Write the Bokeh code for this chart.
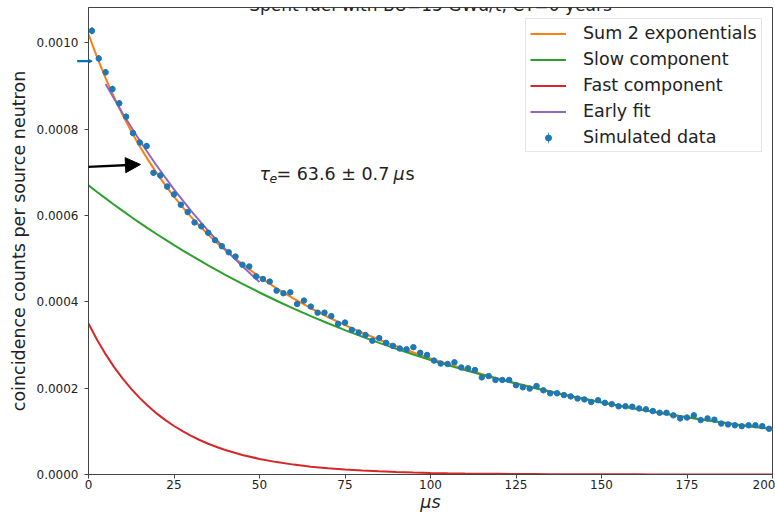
import math
from bokeh.plotting import figure
from bokeh.models import (Range1d, Legend, LegendItem, Label, Arrow, NormalHead,
                          FixedTicker, PrintfTickFormatter, ColumnDataSource)
from bokeh.core.properties import value
from bokeh.embed import file_html
from bokeh.resources import INLINE

# ---------------- data ----------------
t_data = list(range(1, 200, 2))  # microseconds, bin centres
y_data = [
    0.001028, 0.000964, 0.000932, 0.000893, 0.000860, 0.000829, 0.000791, 0.000769, 0.000761, 0.000699,
    0.000693, 0.000667, 0.000649, 0.000625, 0.000608, 0.000584, 0.000575, 0.000560, 0.000543, 0.000529,
    0.000515, 0.000505, 0.000486, 0.000482, 0.000459, 0.000453, 0.000447, 0.000426, 0.000420, 0.000422,
    0.000395, 0.000403, 0.000389, 0.000375, 0.000375, 0.000367, 0.000349, 0.000352, 0.000335, 0.000329,
    0.000323, 0.000310, 0.000316, 0.000305, 0.000298, 0.000292, 0.000290, 0.000295, 0.000282, 0.000277,
    0.000264, 0.000257, 0.000256, 0.000260, 0.000248, 0.000246, 0.000242, 0.000225, 0.000228, 0.000219,
    0.000219, 0.000219, 0.000207, 0.000202, 0.000199, 0.000205, 0.000195, 0.000188, 0.000188, 0.000184,
    0.000181, 0.000176, 0.000174, 0.000168, 0.000172, 0.000166, 0.000163, 0.000158, 0.000158, 0.000157,
    0.000153, 0.000151, 0.000147, 0.000143, 0.000143, 0.000137, 0.000130, 0.000132, 0.000137, 0.000126,
    0.000130, 0.000127, 0.000118, 0.000116, 0.000114, 0.000112, 0.000114, 0.000114, 0.000112, 0.000106,
]
y_err = [v * 1e-6 for v in [
    8.0, 7.8, 7.6, 7.5, 7.3, 7.2, 7.0, 6.9, 6.8, 6.7, 6.6, 6.5, 6.4, 6.3, 6.2, 6.1, 6.0, 5.9, 5.8, 5.8,
    5.7, 5.6, 5.5, 5.5, 5.4, 5.3, 5.3, 5.2, 5.1, 5.1, 5.0, 5.0, 4.9, 4.9, 4.8, 4.8, 4.7, 4.7, 4.6, 4.6,
    4.5, 4.5, 4.5, 4.4, 4.4, 4.3, 4.3, 4.3, 4.2, 4.2, 4.1, 4.1, 4.1, 4.0, 4.0, 4.0, 3.9, 3.9, 3.9, 3.8,
    3.8, 3.8, 3.7, 3.7, 3.7, 3.7, 3.6, 3.6, 3.6, 3.5, 3.5, 3.5, 3.5, 3.4, 3.4, 3.4, 3.4, 3.3, 3.3, 3.3,
    3.3, 3.2, 3.2, 3.2, 3.2, 3.1, 3.1, 3.1, 3.1, 3.0, 3.0, 3.0, 3.0, 3.0, 2.9, 2.9, 2.9, 2.9, 2.9, 2.8,
]]

t_curve = [0, 2.5, 5, 7.5, 10, 12.5, 15, 17.5, 20, 22.5, 25, 27.5, 30, 32.5, 35, 37.5, 40,
           45, 50, 55, 60, 65, 70, 75, 80, 85, 90, 95, 100, 105, 110, 115, 120, 125, 130,
           135, 140, 145, 150, 155, 160, 165, 170, 175, 180, 185, 190, 195, 200]
sum_curve = [
    0.0010200, 0.0009671, 0.0009185, 0.0008740, 0.0008329, 0.0007950, 0.0007601, 0.0007278, 0.0006977,
    0.0006699, 0.0006439, 0.0006196, 0.0005970, 0.0005758, 0.0005558, 0.0005371, 0.0005194,
    0.0004870, 0.0004578, 0.0004313, 0.0004073, 0.0003852, 0.0003649, 0.0003461, 0.0003286, 0.0003123,
    0.0002970, 0.0002827, 0.0002691, 0.0002563, 0.0002443, 0.0002329, 0.0002220, 0.0002117, 0.0002020,
    0.0001927, 0.0001838, 0.0001754, 0.0001674, 0.0001598, 0.0001526, 0.0001456, 0.0001390, 0.0001326,
    0.0001266, 0.0001209, 0.0001154, 0.0001101, 0.0001051,
]
slow_curve = [
    0.0006700, 0.0006547, 0.0006397, 0.0006251, 0.0006107, 0.0005967, 0.0005831, 0.0005698, 0.0005567,
    0.0005440, 0.0005315, 0.0005193, 0.0005075, 0.0004959, 0.0004845, 0.0004734, 0.0004626,
    0.0004417, 0.0004217, 0.0004026, 0.0003844, 0.0003670, 0.0003504, 0.0003345, 0.0003194, 0.0003049,
    0.0002911, 0.0002780, 0.0002654, 0.0002534, 0.0002419, 0.0002310, 0.0002205, 0.0002105, 0.0002010,
    0.0001919, 0.0001832, 0.0001749, 0.0001670, 0.0001595, 0.0001523, 0.0001454, 0.0001388, 0.0001325,
    0.0001265, 0.0001208, 0.0001153, 0.0001101, 0.0001051,
]
fast_curve = [
    0.0003500, 0.0003124, 0.0002788, 0.0002489, 0.0002222, 0.0001983, 0.0001770, 0.0001580, 0.0001410,
    0.0001259, 0.0001124, 0.0001003, 0.0000895, 0.0000799, 0.0000713, 0.0000637, 0.0000568,
    0.0000453, 0.0000361, 0.0000287, 0.0000229, 0.0000182, 0.0000145, 0.0000116, 0.0000092, 0.0000074,
    0.0000059, 0.0000047, 0.0000037, 0.0000030, 0.0000024, 0.0000019, 0.0000015, 0.0000012, 0.0000010,
    0.0000008, 0.0000006, 0.0000005, 0.0000004, 0.0000003, 0.0000003, 0.0000002, 0.0000002, 0.0000002,
    0.0000001, 0.0000001, 0.0000001, 0.0000001, 0.0000000,
]
t_early = [5, 10, 15, 20, 25, 30, 35, 40, 45, 50]
early_curve = [0.0009050, 0.0008366, 0.0007733, 0.0007148, 0.0006608, 0.0006108,
               0.0005646, 0.0005219, 0.0004825, 0.0004460]

x_ticks = [0, 25, 50, 75, 100, 125, 150, 175, 200]
y_ticks = [0.0, 0.0002, 0.0004, 0.0006, 0.0008, 0.0010]

title_text = "Spent fuel with BU=15 GWd/t, CT=0 years"
x_label = "μs"
y_label = "coincidence counts per source neutron"
legend_labels = ["Sum 2 exponentials", "Slow component", "Fast component", "Early fit", "Simulated data"]

# annotation arrows (start x, start y, tip x, tip y) in data units
blue_arrow = (-25.7, 0.0009576, 1.08, 0.0009576)
black_arrow = (-25.7, 0.0007037, 15.2, 0.0007183)

FONT = "DejaVu Sans"
C_BLUE, C_ORANGE, C_GREEN, C_RED, C_PURPLE = "#1f77b4", "#ff7f0e", "#2ca02c", "#d62728", "#9467bd"
TXT = "#222222"
AX = "#444444"

W, H = 775, 515
BL, BR, BT, BB = 88, 3, 7, 41
Y_TOP = 0.001082
p = figure(width=W, height=H, x_range=Range1d(0, 200), y_range=Range1d(0, Y_TOP),
           output_backend="svg", toolbar_location=None,
           min_border_left=BL, min_border_right=BR, min_border_top=BT, min_border_bottom=BB)
p.title.visible = False
p.xgrid.visible = False
p.ygrid.visible = False
p.outline_line_color = AX
p.outline_line_width = 1
p.background_fill_color = "white"
p.border_fill_color = "white"

for ax in (p.xaxis[0], p.yaxis[0]):
    ax.axis_line_color = AX
    ax.major_tick_line_color = AX
    ax.minor_tick_line_color = None
    ax.major_tick_in = 0
    ax.major_tick_out = 4
    ax.major_label_text_font = FONT
    ax.major_label_text_font_size = "12px"
    ax.major_label_text_color = TXT
    ax.axis_label_text_font = FONT
    ax.axis_label_text_font_size = "17.5px"
    ax.axis_label_text_font_style = "normal"
    ax.axis_label_text_color = TXT

p.xaxis.ticker = FixedTicker(ticks=x_ticks)
p.yaxis.ticker = FixedTicker(ticks=y_ticks)
p.yaxis.formatter = PrintfTickFormatter(format="%.4f")
p.xaxis.major_label_standoff = 1
p.xaxis.axis_label = x_label
p.xaxis.axis_label_text_font_style = "italic"
p.xaxis.axis_label_standoff = 0
p.yaxis.major_label_standoff = 6
p.yaxis.axis_label = y_label
p.yaxis.axis_label_standoff = 5

r_sum = p.line(t_curve, sum_curve, line_color=C_ORANGE, line_width=2)
r_slow = p.line(t_curve, slow_curve, line_color=C_GREEN, line_width=2)
r_fast = p.line(t_curve, fast_curve, line_color=C_RED, line_width=2)
r_early = p.line(t_early, early_curve, line_color=C_PURPLE, line_width=2)

src = ColumnDataSource(dict(t=t_data, y=y_data,
                            lo=[a - b for a, b in zip(y_data, y_err)],
                            hi=[a + b for a, b in zip(y_data, y_err)]))
r_err = p.segment(x0="t", y0="lo", x1="t", y1="hi", source=src, line_color=C_BLUE, line_width=1.5)
r_pts = p.scatter(x="t", y="y", source=src, size=5.5, fill_color=C_BLUE, line_color=C_BLUE)
# legend proxy for the error bar: a hair-thin ellipse lying inside the first error bar
r_leg_bar = p.ellipse(x=[t_data[0]], y=[y_data[0]], width=0.6, height=[2 * y_err[0]],
                      width_units="screen", height_units="data",
                      fill_color=C_BLUE, line_color=None)

legend = Legend(items=[
    LegendItem(label=legend_labels[0], renderers=[r_sum]),
    LegendItem(label=legend_labels[1], renderers=[r_slow]),
    LegendItem(label=legend_labels[2], renderers=[r_fast]),
    LegendItem(label=legend_labels[3], renderers=[r_early]),
    LegendItem(label=legend_labels[4], renderers=[r_leg_bar, r_pts]),
])
legend.location = (437, 322)
legend.margin = 0
legend.padding = 4
legend.spacing = 6
legend.glyph_height = 15
legend.glyph_width = 36
legend.label_height = 20
legend.label_standoff = 17
legend.label_text_font = FONT
legend.label_text_font_size = "17.5px"
legend.label_text_color = TXT
legend.border_line_color = "#cccccc"
legend.border_line_width = 1
legend.background_fill_alpha = 0.8
p.add_layout(legend)

# tau annotation
tx, ty = 50, 0.000696
p.text(x=[tx], y=[ty], text=["τ"], text_font=value(FONT), text_font_size="17.5px",
       text_font_style="italic", text_baseline="alphabetic", text_color=TXT)
p.text(x=[tx], y=[ty], text=["e"], text_font=value(FONT), text_font_size="12.5px",
       text_font_style="italic", text_baseline="alphabetic", text_color=TXT,
       x_offset=10, y_offset=4)
p.text(x=[tx], y=[ty], text=["= 63.6 ± 0.7"], text_font=value(FONT), text_font_size="17.5px",
       text_baseline="alphabetic", text_color=TXT, x_offset=17)
p.text(x=[tx], y=[ty], text=["μ"], text_font=value(FONT), text_font_size="17.5px",
       text_font_style="italic", text_baseline="alphabetic", text_color=TXT, x_offset=134)
p.text(x=[tx], y=[ty], text=["s"], text_font=value(FONT), text_font_size="17.5px",
       text_baseline="alphabetic", text_color=TXT, x_offset=146)

# title, mostly above the top of the picture as in the reference
p.add_layout(Label(x=100, y=Y_TOP, text=title_text, text_align="center",
                   text_baseline="alphabetic", y_offset=3, text_font=FONT,
                   text_font_size="17px", text_color=TXT))

# arrows
PX_X = (W - BL - BR) / 200.0          # pixels per microsecond
PX_Y = (H - BT - BB) / Y_TOP          # pixels per unit of y
FRAME_BOTTOM = H - BB


def to_canvas(x, y):
    return BL + x * PX_X, BT + (Y_TOP - y) * PX_Y


HEAD = 15
for arr, col, lw in ((blue_arrow, "#0070c0", 2.2), (black_arrow, "black", 2.4)):
    cx0, cy0 = to_canvas(arr[0], arr[1])
    cx1, cy1 = to_canvas(arr[2], arr[3])
    L = math.hypot(cx1 - cx0, cy1 - cy0)
    dx, dy = (cx1 - cx0) / L, (cy1 - cy0) / L
    bx, by = cx1 - dx * (HEAD - 1), cy1 - dy * (HEAD - 1)
    # part of the shaft left of the frame: drawn as a bare legend line sample
    x_end = min(bx, BL + 1)
    y_mid = cy0 + (by - cy0) * ((x_end - cx0) / 2) / (bx - cx0)
    shaft_r = p.line(x=[], y=[], line_color=col, line_width=lw)
    gh = 4
    shaft = Legend(items=[LegendItem(label=" ", renderers=[shaft_r])],
                   location=(cx0 - BL, FRAME_BOTTOM - (y_mid + gh / 2)),
                   margin=0, padding=0, spacing=0, glyph_width=int(round(x_end - cx0)), glyph_height=gh,
                   label_standoff=0, label_width=0, label_height=1, label_text_font_size="1px",
                   border_line_color=None, background_fill_alpha=0)
    p.add_layout(shaft)
    # tip (and the shaft inside the frame)
    p.add_layout(Arrow(start=None, end=NormalHead(size=HEAD, fill_color=col, line_color=col, line_width=1),
                       x_start=cx0, y_start=cy0, x_end=cx1, y_end=cy1,
                       start_units="canvas", end_units="canvas",
                       line_color=col, line_width=lw))

open("out.html", "w").write(file_html(p, INLINE))
